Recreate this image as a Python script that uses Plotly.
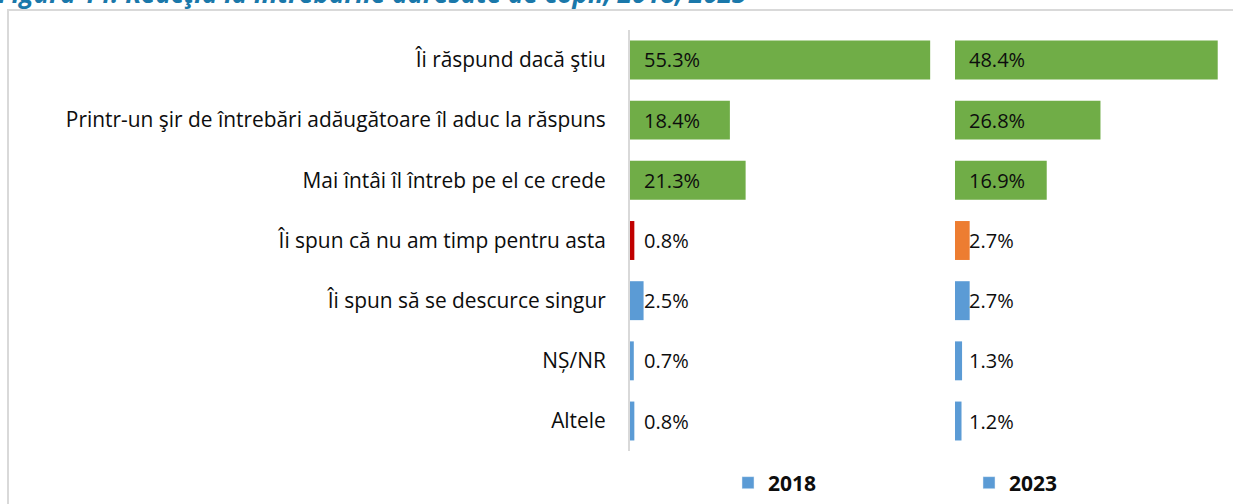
import plotly.graph_objects as go

categories = [
    "Îi răspund dacă ştiu",
    "Printr-un şir de întrebări adăugătoare îl aduc la răspuns",
    "Mai întâi îl întreb pe el ce crede",
    "Îi spun că nu am timp pentru asta",
    "Îi spun să se descurce singur",
    "NȘ/NR",
    "Altele",
]
values_2018 = [55.3, 18.4, 21.3, 0.8, 2.5, 0.7, 0.8]
values_2023 = [48.4, 26.8, 16.9, 2.7, 2.7, 1.3, 1.2]
colors_2018 = ["#70AD47", "#70AD47", "#70AD47", "#C00000", "#5B9BD5", "#5B9BD5", "#5B9BD5"]
colors_2023 = ["#70AD47", "#70AD47", "#70AD47", "#ED7D31", "#5B9BD5", "#5B9BD5", "#5B9BD5"]
series_names = ["2018", "2023"]
title_text = "Figura 14. Reacţia la întrebările adresate de copii, 2018, 2023"

W, H = 1233, 504
FONT = "Open Sans"

fig = go.Figure()
fig.add_trace(go.Bar(x=values_2018, y=categories, orientation="h",
                     marker=dict(color=colors_2018, line=dict(width=0)),
                     xaxis="x", yaxis="y", showlegend=False, hoverinfo="x+y"))
fig.add_trace(go.Bar(x=values_2023, y=categories, orientation="h",
                     marker=dict(color=colors_2023, line=dict(width=0)),
                     xaxis="x2", yaxis="y2", showlegend=False, hoverinfo="x+y"))
# legend entries
fig.add_trace(go.Bar(x=[None], y=[None], name=series_names[0], marker_color="#5B9BD5",
                     xaxis="x", yaxis="y", legend="legend"))
fig.add_trace(go.Bar(x=[None], y=[None], name=series_names[1], marker_color="#5B9BD5",
                     xaxis="x2", yaxis="y2", legend="legend2"))

annotations = []
for c, v in zip(categories, values_2018):
    annotations.append(dict(x=0, y=c, xref="x", yref="y", text=f"{v:.1f}%", showarrow=False,
                            xanchor="left", yanchor="middle", xshift=12,
                            font=dict(family=FONT, size=20, color="#0D0D0D")))
for c, v in zip(categories, values_2023):
    annotations.append(dict(x=0, y=c, xref="x2", yref="y2", text=f"{v:.1f}%", showarrow=False,
                            xanchor="left", yanchor="middle", xshift=12,
                            font=dict(family=FONT, size=20, color="#0D0D0D")))
annotations.append(dict(x=0, y=1, xref="paper", yref="paper", text=f"<b><i>{title_text}</i></b>",
                        showarrow=False, xanchor="left", yanchor="middle", yshift=7, xshift=-4,
                        font=dict(family=FONT, size=26, color="#1A78AA")))

x1a, x1b, x2b = 630 / W, 955 / W, 1.0
ytop, ybot = 1 - 29.9 / H, 1 - 451.1 / H

fig.update_layout(
    width=W, height=H,
    margin=dict(l=0, r=0, t=0, b=0),
    paper_bgcolor="white", plot_bgcolor="rgba(0,0,0,0)",
    barmode="overlay", bargap=0.353,
    font=dict(family=FONT, size=20, color="#0D0D0D"),
    xaxis=dict(domain=[x1a, x1b], range=[0, 325 / 5.428], visible=False),
    xaxis2=dict(domain=[x1b, x2b], range=[0, 278 / 5.428], visible=False, anchor="y2"),
    yaxis=dict(domain=[ybot, ytop], type="category", categoryarray=categories,
               autorange="reversed", showline=True, linecolor="#D9D9D9", linewidth=2,
               ticks="", showgrid=False, ticklabelstandoff=18,
               tickfont=dict(family=FONT, size=20.9, color="#0D0D0D"), anchor="x"),
    yaxis2=dict(domain=[ybot, ytop], type="category", categoryarray=categories,
                autorange="reversed", showline=False, showticklabels=False, showgrid=False,
                anchor="x2"),
    legend=dict(x=728 / W, y=21 / H, xanchor="left", yanchor="middle", orientation="h",
                font=dict(family=FONT, size=21, color="#0D0D0D", weight="bold"),
                bgcolor="rgba(0,0,0,0)", itemwidth=30),
    legend2=dict(x=969 / W, y=21 / H, xanchor="left", yanchor="middle", orientation="h",
                 font=dict(family=FONT, size=21, color="#0D0D0D", weight="bold"),
                 bgcolor="rgba(0,0,0,0)", itemwidth=30),
    annotations=annotations,
    shapes=[dict(type="rect", xref="paper", yref="paper", x0=8 / W, x1=1.05, y0=-0.05,
                 y1=1 - 10 / H, line=dict(color="#D9D9D9", width=2), layer="above")],
)

fig.write_html("out.html", config={"displayModeBar": False},
               post_script="document.body.style.margin='0';")
